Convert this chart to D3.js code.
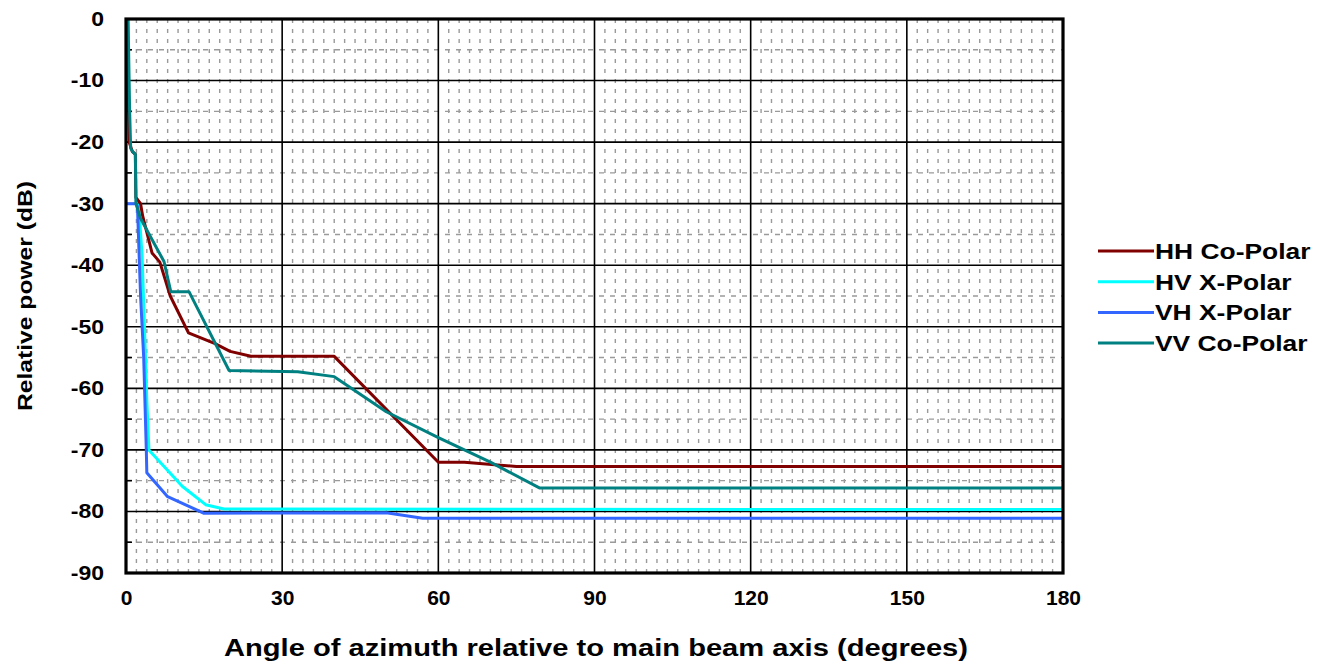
<!DOCTYPE html>
<html>
<head>
<meta charset="utf-8">
<script src="https://cdn.jsdelivr.net/npm/d3@7"></script>
<style>
  body { margin: 0; background: #fff; }
  text { font-family: "Liberation Sans", Arial, sans-serif; font-weight: bold; fill: #000; }
</style>
</head>
<body>
<div class="chart-container"></div>
<script>
// angle (deg), relative power (dB)
var hhCoPolar = [[0.3,0],[0.5,-15],[0.6,-20],[1.2,-21.5],[1.8,-22],[1.9,-29],[2.8,-30],[3.2,-32],[5,-38],[6.5,-39.5],
  [8.5,-45],[12,-51],[17,-52.7],[20,-54],[24,-54.8],[40,-54.8],[60,-72],[65,-72],[75,-72.7],[180,-72.7]];
var hvXPolar = [[2.2,-30],[2.5,-31],[3.1,-38.6],[3.7,-54],[4,-62],[4.4,-70],[10.8,-75.9],[15.3,-78.9],
  [18.8,-79.6],[180,-79.7]];
var vhXPolar = [[0,-30],[2,-30],[2.2,-30.5],[2.8,-45],[3.4,-55],[3.9,-70],[4,-73.7],[8,-77.6],[15,-80.3],
  [50,-80.2],[57,-81.1],[180,-81.1]];
var vvCoPolar = [[0.4,0],[0.7,-15],[0.9,-21],[1.3,-21.6],[1.8,-22],[1.9,-30],[2.8,-32.4],[7.3,-39.4],[8.6,-44.3],
  [12.1,-44.3],[19.8,-57.1],[33,-57.3],[40,-58.1],[50,-63.8],[60,-68],[70,-72],[79.5,-76.2],[180,-76.2]];

var seriesNames = ['HH Co-Polar', 'HV X-Polar', 'VH X-Polar', 'VV Co-Polar'];
var seriesColors = ['#800000', '#00ffff', '#3366ff', '#008080'];
var seriesData = [hhCoPolar, hvXPolar, vhXPolar, vvCoPolar];
var drawOrder = [1, 2, 0, 3];

var xTicks = [0, 30, 60, 90, 120, 150, 180];
var yTicks = [0, -10, -20, -30, -40, -50, -60, -70, -80, -90];

var margin = {top: 19, right: 264, bottom: 88, left: 126},
  width = 1327 - margin.left - margin.right,
  height = 661 - margin.top - margin.bottom;

// widen text a little, the source font is drawn wider than Liberation Sans
function stretch(sel, k) {
  sel.each(function () {
    var w = this.getComputedTextLength();
    d3.select(this).attr('textLength', w * k).attr('lengthAdjust', 'spacingAndGlyphs');
  });
}

var svg = d3.select('.chart-container').append('svg')
    .attr('width', 1327)
    .attr('height', 661);
var g = svg.append('g')
    .attr('transform', 'translate(' + margin.left + ',' + margin.top + ')');

var x = d3.scaleLinear().domain([0, 180]).range([0, width]);
var y = d3.scaleLinear().domain([-90, 0]).range([height, 0]);

// minor grid (dashed grey)
g.append('g').selectAll('line')
  .data(d3.range(2, 180, 2).filter(function (d) { return d % 30 !== 0; }))
  .enter().append('line')
    .attr('x1', function (d) { return x(d); }).attr('x2', function (d) { return x(d); })
    .attr('y1', 0).attr('y2', height)
    .attr('stroke', '#9a9a9a').attr('stroke-width', 1.4).attr('stroke-dasharray', '4,6');
g.append('g').selectAll('line')
  .data(d3.range(-85, 0, 10))
  .enter().append('line')
    .attr('x1', 0).attr('x2', width)
    .attr('y1', function (d) { return y(d); }).attr('y2', function (d) { return y(d); })
    .attr('stroke', '#9a9a9a').attr('stroke-width', 1.4).attr('stroke-dasharray', '5,6');

// major grid
g.append('g').selectAll('line')
  .data(xTicks.slice(1, -1))
  .enter().append('line')
    .attr('x1', function (d) { return x(d); }).attr('x2', function (d) { return x(d); })
    .attr('y1', 0).attr('y2', height)
    .attr('stroke', '#000').attr('stroke-width', 1.6);
g.append('g').selectAll('line')
  .data(yTicks.slice(1, -1))
  .enter().append('line')
    .attr('x1', 0).attr('x2', width)
    .attr('y1', function (d) { return y(d); }).attr('y2', function (d) { return y(d); })
    .attr('stroke', '#000').attr('stroke-width', 1.6);

// minor ticks inside frame
g.append('g').selectAll('line')
  .data(d3.range(-85, 0, 10))
  .enter().append('line')
    .attr('x1', 0).attr('x2', 6)
    .attr('y1', function (d) { return y(d); }).attr('y2', function (d) { return y(d); })
    .attr('stroke', '#000').attr('stroke-width', 1.6);

// axes (labels only)
var fmt = function (d) { return String(d); };
var xAxis = d3.axisBottom(x).tickValues(xTicks).tickFormat(fmt).tickSize(0).tickPadding(18);
var yAxis = d3.axisLeft(y).tickValues(yTicks).tickFormat(fmt).tickSize(0).tickPadding(22);
var gx = g.append('g').attr('transform', 'translate(0,' + height + ')').call(xAxis);
var gy = g.append('g').call(yAxis);
[gx, gy].forEach(function (a) {
  a.select('.domain').remove();
  a.selectAll('text').style('font-size', '20px').attr('fill', '#000')
    .style('font-family', '"Liberation Sans", Arial, sans-serif').style('font-weight', 'bold');
});
stretch(gx.selectAll('text'), 1.05);
stretch(gy.selectAll('text'), 1.15);

// series
var line = d3.line()
  .x(function (d) { return x(d[0]); })
  .y(function (d) { return y(d[1]); });
drawOrder.forEach(function (i) {
  g.append('path')
    .datum(seriesData[i])
    .attr('fill', 'none')
    .attr('stroke', seriesColors[i])
    .attr('stroke-width', 3)
    .attr('stroke-linejoin', 'round')
    .attr('d', line);
});

// frame
g.append('rect')
  .attr('width', width).attr('height', height)
  .attr('fill', 'none').attr('stroke', '#000').attr('stroke-width', 3.2);

// axis titles
svg.append('text')
  .attr('x', 596).attr('y', 656)
  .attr('text-anchor', 'middle')
  .style('font-size', '23px')
  .attr('textLength', 744).attr('lengthAdjust', 'spacingAndGlyphs')
  .text('Angle of azimuth relative to main beam axis (degrees)');
svg.append('text')
  .attr('transform', 'translate(32,296) rotate(-90)')
  .attr('text-anchor', 'middle')
  .style('font-size', '21px')
  .attr('textLength', 230).attr('lengthAdjust', 'spacingAndGlyphs')
  .text('Relative power (dB)');

// legend
var legend = svg.append('g').attr('transform', 'translate(1098,251)');
seriesNames.forEach(function (name, i) {
  var row = legend.append('g').attr('transform', 'translate(0,' + (i * 30.7) + ')');
  row.append('line').attr('x1', 0).attr('x2', 56).attr('y1', 0).attr('y2', 0)
    .attr('stroke', seriesColors[i]).attr('stroke-width', 3);
  row.append('text').attr('x', 57).attr('y', 8)
    .style('font-size', '22px')
    .text(name);
});
stretch(legend.selectAll('text'), 1.2);
</script>
</body>
</html>
